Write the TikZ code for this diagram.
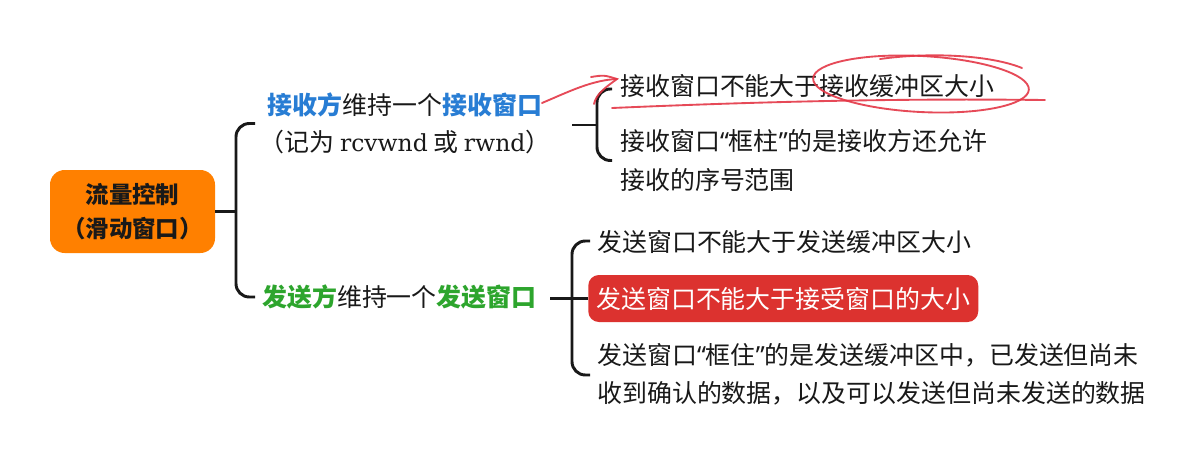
\documentclass[tikz,border=0pt]{standalone}
\usepackage{fontspec}
\newfontfamily\cjk{Noto Sans CJK SC}
\newfontfamily\qfont{Noto Sans}
\newfontfamily\latserif{DejaVu Serif}
\newcommand\myLq{{\qfont “}}
\newcommand\myRq{{\qfont ”}}
\definecolor{rootorange}{RGB}{255,128,0}
\definecolor{rcvblue}{RGB}{40,125,212}
\definecolor{sndgreen}{RGB}{45,165,45}
\definecolor{boxred}{RGB}{220,50,47}
\definecolor{handred}{RGB}{228,55,70}
\definecolor{txt}{RGB}{25,25,25}
\tikzset{
  txtnode/.style={inner sep=0pt, text=txt, font=\cjk\fontsize{18.7pt}{28.5pt}\selectfont},
  rootbox/.style={fill=rootorange, rounded corners=11pt, minimum width=123.75pt, minimum height=62.25pt,
    align=center, text=txt, font=\cjk\bfseries\fontsize{17.6pt}{25pt}\selectfont, inner sep=0pt},
  redbox/.style={fill=boxred, rounded corners=8pt, text=white, minimum height=35.25pt, inner xsep=6pt,
    inner ysep=0pt, font=\cjk\fontsize{18.7pt}{28pt}\selectfont},
  brk/.style={draw=txt, line width=2.2pt, rounded corners=10pt},
  hand/.style={draw=handred, line width=1.4pt, opacity=0.9, line cap=round}
}
\begin{document}
\begin{tikzpicture}[x=0.75pt,y=-0.75pt]
\useasboundingbox[fill=white] (0,0) rectangle (1182,454);

% root
\node[rootbox] (root) at (132.5,211.5) {流量控制\\（滑动窗口）};

% level 1
\node[txtnode, align=center, font=\cjk\fontsize{18.7pt}{27.75pt}\selectfont] (rcv) at (405,123.5)
  {{\color{rcvblue}\bfseries 接收方}维持一个{\color{rcvblue}\bfseries 接收窗口}\\（记为 {\latserif\fontsize{17.6pt}{20pt}\selectfont rcvwnd} 或 {\latserif\fontsize{17.6pt}{20pt}\selectfont rwnd}）};
\node[txtnode, anchor=west] (snd) at (262,297)
  {{\color{sndgreen}\bfseries 发送方}维持一个{\color{sndgreen}\bfseries 发送窗口}};

% level 2 (receiver)
\node[txtnode, anchor=west] (r1) at (620,86) {接收窗口不能大于接收缓冲区大小};
\node[txtnode, anchor=west, align=left, font=\cjk\fontsize{18.7pt}{29.25pt}\selectfont] (r2) at (620,160.5)
  {接收窗口\myLq 框柱\myRq 的是接收方还允许\\接收的序号范围};

% level 2 (sender)
\node[txtnode, anchor=west] (s1) at (597,242) {发送窗口不能大于发送缓冲区大小};
\node[redbox, anchor=west] (s2) at (588,298.5) {发送窗口不能大于接受窗口的大小};
\node[txtnode, anchor=west, align=left] (s3) at (597,374)
  {发送窗口\myLq 框住\myRq 的是发送缓冲区中，已发送但尚未\\收到确认的数据，以及可以发送但尚未发送的数据};

% coordinates for brackets
\coordinate (j1) at (236,211.5);
\coordinate (a1) at (255,123.5);
\coordinate (a2) at (255,297);
\coordinate (j2s) at (572,125);
\coordinate (j2) at (597,125);
\coordinate (b1) at (612,89);
\coordinate (b2) at (612,160.5);
\coordinate (j3s) at (550,298.5);
\coordinate (j3) at (572,298.5);
\coordinate (c1) at (590,241);
\coordinate (c3) at (590,375);

% connectors
\draw[brk] (root.east) -- (j1);
\draw[brk] (a1) -| (j1) |- (a2);
\draw[brk] (j2s) -- (j2);
\draw[brk] (b1) -| (j2) |- (b2);
\draw[brk] (j3s) -- (j3);
\draw[brk] (c1) -| (j3) |- (c3);
\draw[brk] (j3) -- (s2.west);

% hand-drawn red annotations
\draw[hand] (542,103) .. controls (568,92) and (592,80) .. (617,79);
\draw[hand] (591,77) .. controls (604,75) .. (617,79) .. controls (606,87) and (596,94) .. (594,104);
\draw[hand] (612,108) .. controls (820,99) and (950,99) .. (1045,100);
\draw[hand, rotate around={-3:(921,84)}] (921,84) ellipse [x radius=108, y radius=28];
\draw[hand] (880,59) .. controls (930,52) and (990,55) .. (1022,68);
\end{tikzpicture}
\end{document}
